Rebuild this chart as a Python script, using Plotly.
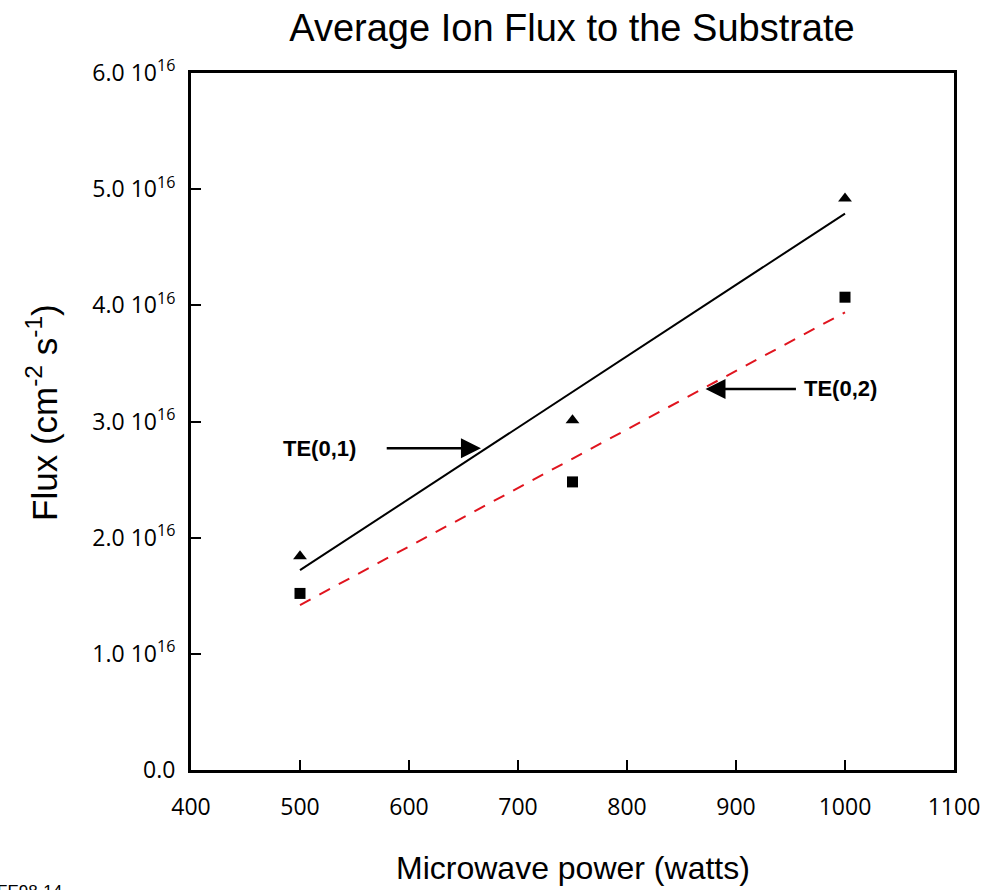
import plotly.graph_objects as go

# Data
power = [500, 750, 1000]
flux_te01 = [1.84e16, 3.01e16, 4.92e16]
flux_te02 = [1.52e16, 2.48e16, 4.07e16]
fit_x = [500, 1000]
fit_te01 = [1.72e16, 4.79e16]
fit_te02 = [1.42e16, 3.94e16]

x_ticks = [400, 500, 600, 700, 800, 900, 1000, 1100]
y_ticks = [0, 1e16, 2e16, 3e16, 4e16, 5e16, 6e16]
y_ticktext = ["0.0", "1.0 10<sup>16</sup>", "2.0 10<sup>16</sup>", "3.0 10<sup>16</sup>",
              "4.0 10<sup>16</sup>", "5.0 10<sup>16</sup>", "6.0 10<sup>16</sup>"]

W, H = 992, 890
L, R, T, B = 191, 28, 73, 120
def px(p):  # page pixel x -> paper
    return (p - L) / (W - L - R)
def py(p):  # page pixel y -> paper
    return (H - B - p) / (H - T - B)

tick_font = dict(family="Open Sans, DejaVu Sans, sans-serif", size=23, color="black")

fig = go.Figure()
fig.add_trace(go.Scatter(x=fit_x, y=fit_te01, mode="lines",
                         line=dict(color="black", width=2), showlegend=False))
fig.add_trace(go.Scatter(x=fit_x, y=fit_te02, mode="lines",
                         line=dict(color="#e0141e", width=2, dash="12px,10px"), showlegend=False))
fig.add_trace(go.Scatter(x=power, y=flux_te01, mode="markers",
                         marker=dict(symbol="triangle-up", size=12, color="black"), showlegend=False))
fig.add_trace(go.Scatter(x=power, y=flux_te02, mode="markers",
                         marker=dict(symbol="square", size=11, color="black"), showlegend=False))

axis_common = dict(showline=True, linecolor="black", linewidth=3, mirror=True,
                   ticks="inside", ticklen=10, tickwidth=1.5, tickcolor="black",
                   showgrid=False, zeroline=False, tickfont=tick_font)

fig.update_xaxes(range=[400, 1100], tickvals=x_ticks, ticktext=[str(v) for v in x_ticks],
                 ticklabelstandoff=14, **axis_common)
fig.update_yaxes(range=[0, 6e16], tickvals=y_ticks, ticktext=y_ticktext,
                 ticklabelstandoff=8, **axis_common)

label_font = dict(family="Liberation Sans Narrow, Arial Narrow, Liberation Sans, sans-serif", size=22, color="black")
fig.add_annotation(text="Microwave power (watts)", x=px(578), y=py(868), xref="paper", yref="paper",
                   showarrow=False, font=dict(family="Liberation Sans, Arial, sans-serif", size=32, color="black"),
                   xanchor="center", yanchor="middle")
fig.add_annotation(text="Flux (cm<sup>-2</sup> s<sup>-1</sup>)", x=px(40), y=py(412), xref="paper", yref="paper",
                   showarrow=False, textangle=-90,
                   font=dict(family="Liberation Sans, Arial, sans-serif", size=35, color="black"),
                   xanchor="center", yanchor="middle")
fig.add_annotation(text="<b>TE(0,1)</b>", x=px(321), y=py(448), xref="paper", yref="paper",
                   showarrow=False, font=label_font, xanchor="center", yanchor="middle")
fig.add_annotation(text="<b>TE(0,2)</b>", x=px(849), y=py(388), xref="paper", yref="paper",
                   showarrow=False, font=label_font, xanchor="center", yanchor="middle")
fig.add_annotation(text="", x=666, y=2.77e16, xref="x", yref="y",
                   ax=400 + (387 - 191) / 1.1, ay=2.77e16, axref="x", ayref="y",
                   showarrow=True, arrowhead=2, arrowsize=1.6, arrowwidth=2.5, arrowcolor="black")
fig.add_annotation(text="", x=872, y=3.28e16, xref="x", yref="y",
                   ax=400 + (803 - 191) / 1.1, ay=3.28e16, axref="x", ayref="y",
                   showarrow=True, arrowhead=2, arrowsize=1.6, arrowwidth=2.5, arrowcolor="black")
fig.add_annotation(text="FE98-14", x=px(-8), y=py(880), xref="paper", yref="paper",
                   showarrow=False, font=dict(family="Liberation Sans, Arial, sans-serif", size=17, color="black"),
                   xanchor="left", yanchor="top")

fig.update_layout(
    width=W, height=H,
    margin=dict(l=L, r=R, t=T, b=B),
    paper_bgcolor="white", plot_bgcolor="white",
    title=dict(text="Average Ion Flux to the Substrate", x=px(577), xanchor="center", xref="paper",
               y=1 - 28 / H, yanchor="middle", yref="container",
               font=dict(family="Liberation Sans Narrow, Arial Narrow, Liberation Sans, sans-serif", size=38, color="black")),
)

fig.write_html("out.html", config={"displayModeBar": False},
               post_script="document.body.style.margin='0';document.body.style.overflow='hidden';")
